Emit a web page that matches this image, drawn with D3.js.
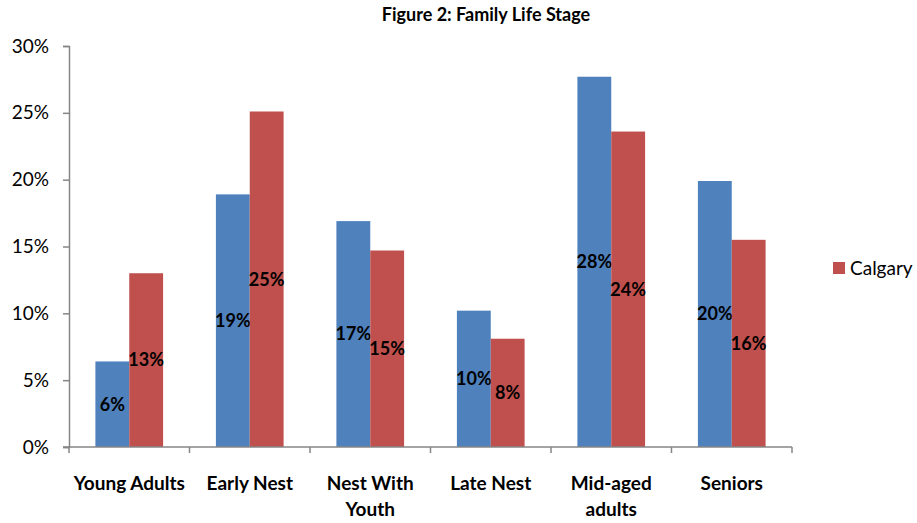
<!DOCTYPE html>
<html>
<head>
<meta charset="utf-8">
<script src="https://cdn.jsdelivr.net/npm/d3@7"></script>
<style>
  body { margin: 0; background: #fff; }
  svg { font-family: Lato, "Open Sans", sans-serif; }
</style>
</head>
<body>
<div id="chart"></div>
<script>
// data
const categories = ["Young Adults", "Early Nest", "Nest With Youth", "Late Nest", "Mid-aged adults", "Seniors"];
const catLines = [["Young Adults"], ["Early Nest"], ["Nest With", "Youth"], ["Late Nest"], ["Mid-aged", "adults"], ["Seniors"]];
const blueValues = [6.4, 18.9, 16.9, 10.2, 27.7, 19.9];
const calgaryValues = [13.0, 25.1, 14.7, 8.1, 23.6, 15.5];
const yTicks = [0, 5, 10, 15, 20, 25, 30];

const width = 917, height = 523;
const marginLeft = 69, marginRight = 125, marginTop = 46, marginBottom = 76;

const svg = d3.select("#chart").append("svg")
    .attr("width", width)
    .attr("height", height);

const x = d3.scaleBand()
    .domain(categories)
    .range([marginLeft, width - marginRight]);

const xInner = d3.scaleBand()
    .domain(["other", "Calgary"])
    .range([0, x.bandwidth()])
    .paddingOuter(0.78);

const y = d3.scaleLinear()
    .domain([0, 30])
    .range([height - marginBottom, marginTop]);

const axisColor = "#868686";

// title
svg.append("text")
    .attr("x", 486)
    .attr("y", 21)
    .attr("text-anchor", "middle")
    .attr("font-weight", "bold")
    .attr("font-size", 18)
    .text("Figure 2: Family Life Stage");

// y axis
const yAxis = svg.append("g")
    .attr("transform", `translate(${marginLeft},0)`)
    .call(d3.axisLeft(y).tickValues(yTicks).tickFormat(d => d + "%").tickSize(6).tickPadding(14));
yAxis.select(".domain").attr("stroke", axisColor).attr("stroke-width", 1.5);
yAxis.selectAll(".tick line").attr("stroke", axisColor).attr("stroke-width", 1.5);
yAxis.selectAll(".tick text").attr("font-size", 19).attr("fill", "#000")
    .attr("font-family", "Lato, sans-serif");

// bars
const rows = categories.map((c, i) => ({c, i}));
const groups = svg.append("g").selectAll("g")
  .data(rows)
  .join("g")
    .attr("transform", d => `translate(${x(d.c)},0)`);

const series = [
  {key: "other", values: blueValues, color: "#4F81BD"},
  {key: "Calgary", values: calgaryValues, color: "#C0504D"}
];

series.forEach(s => {
  groups.append("rect")
      .attr("x", xInner(s.key))
      .attr("y", d => y(s.values[d.i]))
      .attr("width", xInner.bandwidth())
      .attr("height", d => y(0) - y(s.values[d.i]))
      .attr("fill", s.color);
  groups.append("text")
      .attr("x", xInner(s.key) + xInner.bandwidth() / 2)
      .attr("y", d => (y(0) + y(s.values[d.i])) / 2)
      .attr("dy", "0.35em")
      .attr("text-anchor", "middle")
      .attr("font-weight", "bold")
      .attr("font-size", 18)
      .text(d => Math.round(s.values[d.i]) + "%");
});

// x axis
const xAxis = svg.append("g")
    .attr("transform", `translate(0,${y(0)})`);
xAxis.append("line")
    .attr("x1", marginLeft - 6).attr("x2", width - marginRight)
    .attr("stroke", axisColor).attr("stroke-width", 1.5);
xAxis.selectAll(".cat-tick")
  .data(categories.concat([null]))
  .join("line")
    .attr("class", "cat-tick")
    .attr("x1", d => d === null ? width - marginRight : x(d))
    .attr("x2", d => d === null ? width - marginRight : x(d))
    .attr("y1", 0).attr("y2", 6)
    .attr("stroke", axisColor).attr("stroke-width", 1.5);

xAxis.selectAll(".cat-label")
  .data(rows)
  .join("text")
    .attr("class", "cat-label")
    .attr("x", d => x(d.c) + x.bandwidth() / 2)
    .attr("y", 43)
    .attr("text-anchor", "middle")
    .attr("font-weight", "bold")
    .attr("font-size", 19)
  .selectAll("tspan")
  .data(d => catLines[d.i])
  .join("tspan")
    .attr("x", function() { return d3.select(this.parentNode).attr("x"); })
    .attr("dy", (d, i) => i === 0 ? 0 : 26)
    .text(d => d);

// legend
const legend = svg.append("g").attr("transform", "translate(833,262)");
legend.append("rect").attr("width", 12).attr("height", 12).attr("fill", "#C0504D");
legend.append("text")
    .attr("x", 17).attr("y", 6).attr("dy", "0.35em")
    .attr("font-size", 19)
    .text("Calgary");
</script>
</body>
</html>
